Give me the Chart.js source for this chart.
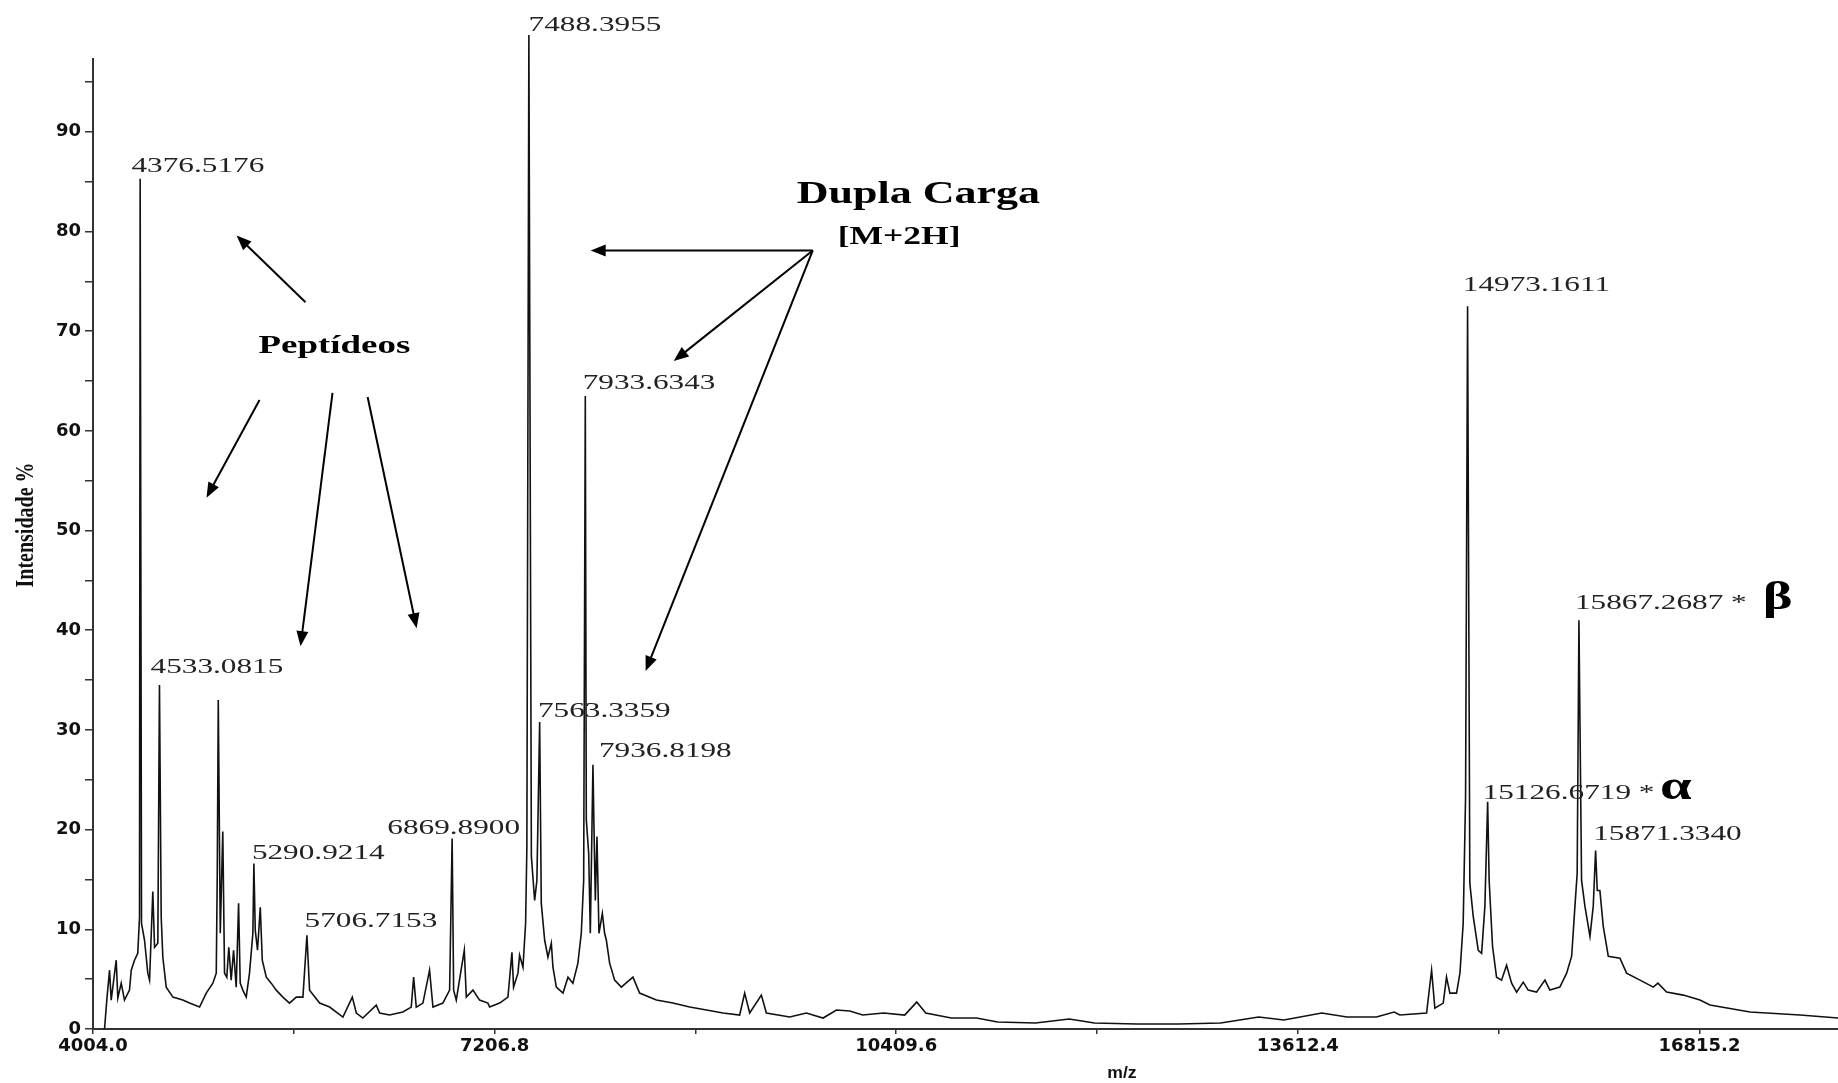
<!DOCTYPE html>
<html>
<head>
<meta charset="utf-8">
<script src="https://cdn.jsdelivr.net/npm/chart.js@4.4.1/dist/chart.umd.min.js"></script>
<style>
html, body { margin: 0; padding: 0; background: #fff; }
#wrap { width: 1838px; height: 1083px; }
</style>
</head>
<body>
<div id="wrap"><canvas id="spectrum"></canvas></div>
<script>
// Spectrum trace (m/z vs relative intensity, %)
const mz = [
    4096, 4114, 4136, 4149, 4189, 4202, 4229, 4255, 4295, 4309,
    4335, 4361, 4375, 4380, 4391, 4415, 4441, 4455, 4481, 4495,
    4521, 4534, 4548, 4561, 4588, 4641, 4720, 4774, 4854, 4907,
    4960, 4987, 4995, 5003, 5019, 5039, 5053, 5071, 5087, 5106,
    5125, 5146, 5165, 5178, 5199, 5226, 5252, 5279, 5287, 5298,
    5316, 5338, 5354, 5386, 5425, 5465, 5518, 5571, 5625, 5678,
    5710, 5731, 5811, 5891, 5997, 6072, 6104, 6156, 6263, 6290,
    6369, 6475, 6542, 6561, 6582, 6635, 6688, 6715, 6794, 6848,
    6868, 6880, 6901, 6965, 6981, 7034, 7087, 7153, 7167, 7247,
    7313, 7345, 7358, 7393, 7406, 7433, 7454, 7464, 7480, 7500,
    7526, 7544, 7566, 7579, 7606, 7632, 7659, 7672, 7699, 7752,
    7792, 7831, 7871, 7898, 7917, 7930, 7938, 7957, 7970, 7991,
    7999, 8010, 8023, 8039, 8066, 8084, 8098, 8124, 8164, 8217,
    8310, 8363, 8497, 8629, 8762, 8896, 9028, 9161, 9201, 9241,
    9334, 9374, 9560, 9693, 9826, 9933, 10039, 10142, 10310, 10477,
    10573, 10645, 10848, 11050, 11218, 11520, 11789, 11990, 12326, 12662,
    12997, 13300, 13501, 13803, 14004, 14239, 14381, 14426, 14639, 14679,
    14705, 14772, 14798, 14825, 14878, 14905, 14931, 14950, 14966, 14984,
    15011, 15051, 15078, 15104, 15126, 15138, 15165, 15197, 15237, 15277,
    15317, 15357, 15410, 15449, 15516, 15583, 15622, 15702, 15756, 15796,
    15822, 15840, 15854, 15875, 15902, 15942, 15968, 15987, 16000, 16021,
    16048, 16088, 16181, 16234, 16341, 16447, 16484, 16553, 16686, 16819,
    16899, 17218, 17617, 17920
];
const intensity = [
    0, 2.9, 5.9, 2.9, 6.9, 3.1, 4.6, 2.9, 3.9, 5.9,
    6.9, 7.6, 11.2, 85.3, 10.6, 8.9, 5.6, 4.9, 13.8, 8.2,
    8.6, 34.5, 11.2, 7.2, 4.2, 3.2, 2.9, 2.6, 2.2, 3.6,
    4.6, 5.6, 15.6, 33.0, 9.6, 19.8, 5.6, 5.2, 8.2, 4.9,
    7.9, 4.2, 12.6, 4.6, 3.9, 3.2, 5.6, 9.6, 16.6, 9.9,
    7.9, 12.2, 6.9, 5.2, 4.6, 3.9, 3.2, 2.6, 3.2, 3.2,
    9.4, 3.9, 2.6, 2.2, 1.2, 3.2, 1.6, 1.1, 2.4, 1.6,
    1.4, 1.7, 2.2, 5.2, 2.2, 2.6, 5.9, 2.2, 2.6, 3.9,
    19.1, 3.9, 2.9, 7.9, 3.2, 3.9, 2.9, 2.6, 2.2, 2.6,
    3.2, 7.7, 4.2, 5.6, 7.4, 6.2, 10.6, 18.2, 99.7, 17.3,
    12.9, 14.9, 30.8, 12.6, 8.9, 7.2, 8.6, 6.2, 4.2, 3.6,
    5.2, 4.6, 6.6, 9.6, 14.9, 63.5, 21.0, 17.6, 9.6, 26.5,
    20.3, 12.9, 19.3, 9.6, 11.6, 9.6, 8.9, 6.6, 4.9, 4.2,
    5.2, 3.6, 2.9, 2.6, 2.2, 1.9, 1.6, 1.4, 3.6, 1.6,
    3.4, 1.6, 1.2, 1.6, 1.1, 1.9, 1.8, 1.4, 1.6, 1.4,
    2.7, 1.6, 1.1, 1.1, 0.7, 0.6, 1.0, 0.6, 0.5, 0.5,
    0.6, 1.2, 0.9, 1.6, 1.2, 1.2, 1.7, 1.4, 1.6, 5.9,
    2.1, 2.6, 5.2, 3.6, 3.6, 5.6, 10.6, 23.3, 72.5, 14.6,
    11.3, 7.9, 7.6, 12.3, 22.8, 14.9, 8.3, 5.2, 4.9, 6.4,
    4.6, 3.7, 4.7, 3.9, 3.7, 4.9, 3.9, 4.2, 5.6, 7.3,
    12.3, 15.6, 41.0, 14.9, 12.3, 9.3, 12.3, 17.9, 13.9, 13.9,
    10.3, 7.3, 7.1, 5.6, 4.9, 4.2, 4.6, 3.7, 3.4, 2.9,
    2.4, 1.7, 1.4, 1.1
];

// Axes
const xMin = 4004.0, xMax = 17920;
const yMin = 0, yMax = 97.3;
const xTicks = [4004.0, 5605.4, 7206.8, 8808.2, 10409.6, 12011.0, 13612.4, 15213.8, 16815.2];
const yTicks = [0, 5, 10, 15, 20, 25, 30, 35, 40, 45, 50, 55, 60, 65, 70, 75, 80, 85, 90, 95];
const xTitle = 'm/z';
const yTitle = 'Intensidade %';

// Peak labels (text left edge / baseline, in data units)
const peakLabels = ['4376.5176', '4533.0815', '5290.9214', '5706.7153', '6869.8900', '7488.3955', '7563.3359',
    '7933.6343', '7936.8198', '14973.1611', '15126.6719 *', '15867.2687 *', '15871.3340'];
const peakLabelMz = [4311, 4463, 5271, 5691, 6351, 7478, 7552, 7909, 8039, 14928, 15086, 15822, 15968];
const peakLabelIntensity = [86.0, 35.7, 17.1, 10.2, 19.6, 100.1, 31.3, 64.2, 27.3, 74.0, 23.1, 42.1, 19.0];

// Greek subunit marks
const greekLabels = ['\u03b1', '\u03b2'];
const greekMz = [16500, 17320];
const greekIntensity = [23.1, 42.1];

// Notes and arrows
const noteLabels = ['Pept\u00eddeos', 'Dupla Carga', '[M+2H]'];
const noteMz = [5324, 9616, 9943];
const noteIntensity = [67.8, 82.9, 78.7];

const arrowFromMz = [5699, 5332, 5914, 6194, 9744, 9744, 9744];
const arrowFromIntensity = [72.9, 63.1, 63.8, 63.4, 78.1, 78.1, 78.1];
const arrowToMz = [5149, 4909, 5659, 6585, 7973, 8635, 8411];
const arrowToIntensity = [79.6, 53.3, 38.4, 40.2, 78.1, 67.0, 35.9];

const stretch = 1.42;

function stretchedText(ctx, text, x, y, font, color) {
    ctx.save();
    ctx.translate(x, y);
    ctx.scale(stretch, 1);
    ctx.font = font;
    ctx.fillStyle = color;
    ctx.textAlign = 'left';
    ctx.textBaseline = 'alphabetic';
    ctx.fillText(text, 0, 0);
    ctx.restore();
}

function arrow(ctx, x1, y1, x2, y2) {
    const a = Math.atan2(y2 - y1, x2 - x1);
    const len = 15, half = 6;
    ctx.beginPath();
    ctx.moveTo(x1, y1);
    ctx.lineTo(x2 - Math.cos(a) * len * 0.8, y2 - Math.sin(a) * len * 0.8);
    ctx.stroke();
    ctx.beginPath();
    ctx.moveTo(x2, y2);
    ctx.lineTo(x2 - len * Math.cos(a) + half * Math.sin(a), y2 - len * Math.sin(a) - half * Math.cos(a));
    ctx.lineTo(x2 - len * Math.cos(a) - half * Math.sin(a), y2 - len * Math.sin(a) + half * Math.cos(a));
    ctx.closePath();
    ctx.fill();
}

const annotations = {
    id: 'annotations',
    afterDatasetsDraw(chart) {
        const ctx = chart.ctx;
        const x = chart.scales.x, y = chart.scales.y;
        const area = chart.chartArea;

        peakLabels.forEach((t, i) => {
            stretchedText(ctx, t, x.getPixelForValue(peakLabelMz[i]), y.getPixelForValue(peakLabelIntensity[i]),
                '22px "Liberation Serif"', '#222');
        });
        greekLabels.forEach((t, i) => {
            stretchedText(ctx, t, x.getPixelForValue(greekMz[i]), y.getPixelForValue(greekIntensity[i]),
                'bold 40px "Liberation Serif"', '#000');
        });

        stretchedText(ctx, noteLabels[0], x.getPixelForValue(noteMz[0]), y.getPixelForValue(noteIntensity[0]),
            'bold 26px "Liberation Serif"', '#000');
        stretchedText(ctx, noteLabels[1], x.getPixelForValue(noteMz[1]), y.getPixelForValue(noteIntensity[1]),
            'bold 31px "Liberation Serif"', '#000');
        stretchedText(ctx, noteLabels[2], x.getPixelForValue(noteMz[2]), y.getPixelForValue(noteIntensity[2]),
            'bold 25px "Liberation Serif"', '#000');

        ctx.save();
        ctx.strokeStyle = '#000';
        ctx.fillStyle = '#000';
        ctx.lineWidth = 2;
        arrowFromMz.forEach((m, i) => {
            arrow(ctx, x.getPixelForValue(m), y.getPixelForValue(arrowFromIntensity[i]),
                x.getPixelForValue(arrowToMz[i]), y.getPixelForValue(arrowToIntensity[i]));
        });
        ctx.restore();

        // axis titles
        ctx.save();
        ctx.translate(26, area.bottom - 504);
        ctx.scale(1.3, 1);
        ctx.rotate(-Math.PI / 2);
        ctx.font = 'bold 20px "Liberation Serif"';
        ctx.fillStyle = '#111';
        ctx.textAlign = 'center';
        ctx.textBaseline = 'middle';
        ctx.fillText(yTitle, 0, 0);
        ctx.restore();

        ctx.save();
        ctx.translate(1122, area.bottom + 45);
        ctx.scale(1.1, 1);
        ctx.font = 'bold 16px "Liberation Sans"';
        ctx.fillStyle = '#111';
        ctx.textAlign = 'center';
        ctx.textBaseline = 'middle';
        ctx.fillText(xTitle, 0, 0);
        ctx.restore();
    }
};

const tickFont = { family: 'DejaVu Sans', weight: 'bold', size: 18 };

new Chart(document.getElementById('spectrum'), {
    type: 'line',
    data: {
        datasets: [{
            data: mz.map((m, i) => ({ x: m, y: intensity[i] })),
            borderColor: '#111',
            borderWidth: 1.6,
            pointRadius: 0,
            tension: 0,
            fill: false,
            clip: false
        }]
    },
    options: {
        responsive: true,
        maintainAspectRatio: false,
        animation: false,
        events: [],
        layout: { padding: { top: 59, right: 0, left: 0, bottom: 0 } },
        plugins: {
            legend: { display: false },
            tooltip: { enabled: false }
        },
        scales: {
            x: {
                type: 'linear',
                min: xMin,
                max: xMax,
                afterBuildTicks: s => { s.ticks = xTicks.map(v => ({ value: v })); },
                afterFit: s => { s.height = 54; },
                ticks: {
                    autoSkip: false,
                    maxRotation: 0,
                    padding: 2,
                    color: '#111',
                    font: tickFont,
                    callback: (v, i) => i % 2 === 0 ? Number(v).toFixed(1) : ''
                },
                grid: { drawOnChartArea: false, drawTicks: true, tickLength: 5, color: '#333', lineWidth: 1.5 },
                border: { display: true, color: '#333', width: 2 }
            },
            y: {
                min: yMin,
                max: yMax,
                afterBuildTicks: s => { s.ticks = yTicks.map(v => ({ value: v })); },
                afterFit: s => { s.width = 93; },
                ticks: {
                    autoSkip: false,
                    padding: 4,
                    color: '#111',
                    font: tickFont,
                    callback: v => v % 10 === 0 ? String(v) : ''
                },
                grid: { drawOnChartArea: false, drawTicks: true, tickLength: 8, color: '#333', lineWidth: 1.5 },
                border: { display: true, color: '#333', width: 2 }
            }
        }
    },
    plugins: [annotations]
});
</script>
</body>
</html>
